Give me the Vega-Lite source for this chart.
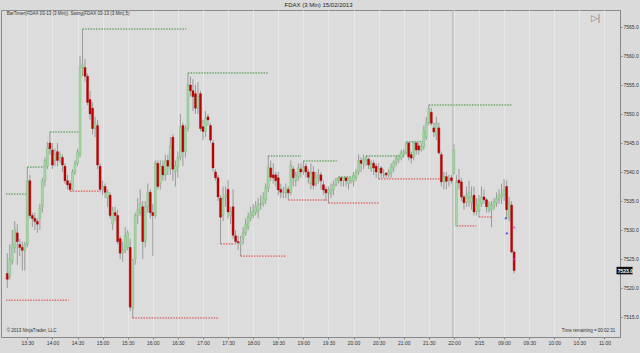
{
  "$schema": "https://vega.github.io/schema/vega-lite/v6.json",
  "width": 619,
  "height": 327,
  "autosize": {"type": "none"},
  "padding": {"left": 1, "top": 10, "right": 20, "bottom": 16},
  "background": "#dadada",
  "view": {"fill": "#dcdcdc", "stroke": "#8c8c8c", "strokeWidth": 1},
  "title": {"text": "FDAX  (3 Min)  15/02/2013", "fontSize": 6, "font": "Liberation Sans", "fontWeight": "normal", "color": "#222222", "anchor": "middle", "offset": 2, "dx": 8, "frame": "group"},
  "config": {"font": "Liberation Sans", "axis": {"labelOverlap": false, "labelFontSize": 5, "labelColor": "#333333", "labelPadding": 1, "tickSize": 2, "tickColor": "#888888", "domainColor": "#888888", "title": null}},
  "datasets": {
    "bars": [
      {"i":-8,"o":7522.5,"h":7526,"l":7520,"c":7521.5},
      {"i":-7,"o":7522,"h":7527.5,"l":7521.5,"c":7525},
      {"i":-6,"o":7524.5,"h":7530,"l":7524,"c":7527.5},
      {"i":-5,"o":7527,"h":7531.5,"l":7526,"c":7530},
      {"i":-4,"o":7529.5,"h":7531,"l":7524,"c":7528},
      {"i":-3,"o":7527.5,"h":7528.5,"l":7525.5,"c":7527},
      {"i":-2,"o":7527,"h":7528,"l":7523,"c":7526.5},
      {"i":-1,"o":7526.5,"h":7528,"l":7523,"c":7527.5},
      {"i":0,"o":7527.5,"h":7540.9,"l":7527,"c":7538.5},
      {"i":1,"o":7538.5,"h":7539.5,"l":7532,"c":7532.5},
      {"i":2,"o":7532.5,"h":7533,"l":7530.5,"c":7532},
      {"i":3,"o":7532,"h":7533,"l":7530,"c":7531.5},
      {"i":4,"o":7531.5,"h":7532,"l":7529.5,"c":7531},
      {"i":5,"o":7532,"h":7534.5,"l":7530,"c":7533.8},
      {"i":6,"o":7534,"h":7539,"l":7533,"c":7538.5},
      {"i":7,"o":7538.5,"h":7542.5,"l":7537.5,"c":7542},
      {"i":8,"o":7541,"h":7545.2,"l":7540.5,"c":7544.3},
      {"i":9,"o":7545,"h":7546.9,"l":7543,"c":7544},
      {"i":10,"o":7543.8,"h":7545,"l":7540.5,"c":7541.2},
      {"i":11,"o":7542,"h":7544,"l":7541,"c":7543},
      {"i":12,"o":7543.5,"h":7545,"l":7541,"c":7542},
      {"i":13,"o":7542.5,"h":7543.5,"l":7541.5,"c":7543},
      {"i":14,"o":7542.5,"h":7543,"l":7540,"c":7541.2},
      {"i":15,"o":7541,"h":7541.5,"l":7538,"c":7538.5},
      {"i":16,"o":7538.5,"h":7539.5,"l":7537,"c":7537.8},
      {"i":17,"o":7538,"h":7538.5,"l":7536.7,"c":7537},
      {"i":18,"o":7537,"h":7540.5,"l":7536.8,"c":7540},
      {"i":19,"o":7540,"h":7542,"l":7539.5,"c":7541.5},
      {"i":20,"o":7541.5,"h":7544,"l":7541,"c":7543.5},
      {"i":21,"o":7543,"h":7560,"l":7542.5,"c":7558.1},
      {"i":22,"o":7558,"h":7564.65,"l":7556.5,"c":7558.5},
      {"i":23,"o":7558,"h":7559.5,"l":7555.5,"c":7556.5},
      {"i":24,"o":7556.5,"h":7557,"l":7551.5,"c":7552},
      {"i":25,"o":7552.5,"h":7554,"l":7549,"c":7550},
      {"i":26,"o":7551,"h":7552,"l":7546.5,"c":7547.5},
      {"i":27,"o":7547.5,"h":7549.5,"l":7546,"c":7548.5},
      {"i":28,"o":7548,"h":7549,"l":7540.5,"c":7541.2},
      {"i":29,"o":7541,"h":7541.5,"l":7536.5,"c":7537},
      {"i":30,"o":7537,"h":7538.5,"l":7536,"c":7537.5},
      {"i":31,"o":7537.5,"h":7538,"l":7535.5,"c":7536.5},
      {"i":32,"o":7535.5,"h":7537,"l":7534,"c":7536.5},
      {"i":33,"o":7536,"h":7536.5,"l":7532,"c":7532.5},
      {"i":34,"o":7531,"h":7534,"l":7530,"c":7533.5},
      {"i":35,"o":7533,"h":7534,"l":7531.5,"c":7532.5},
      {"i":36,"o":7532.5,"h":7533.5,"l":7527.5,"c":7528},
      {"i":37,"o":7528.5,"h":7529,"l":7525,"c":7526},
      {"i":38,"o":7526,"h":7528,"l":7524.5,"c":7526.5},
      {"i":39,"o":7526.5,"h":7530.5,"l":7526,"c":7529},
      {"i":40,"o":7527,"h":7530,"l":7526.5,"c":7529.5},
      {"i":41,"o":7527,"h":7528.5,"l":7516,"c":7516.7},
      {"i":42,"o":7516.5,"h":7525,"l":7514.8,"c":7524.8},
      {"i":43,"o":7525,"h":7533,"l":7524,"c":7532.5},
      {"i":44,"o":7532.5,"h":7535.5,"l":7531,"c":7533.5},
      {"i":45,"o":7533,"h":7537,"l":7532.5,"c":7534.5},
      {"i":46,"o":7534,"h":7535,"l":7525,"c":7528},
      {"i":47,"o":7528,"h":7535,"l":7527,"c":7534},
      {"i":48,"o":7534,"h":7538,"l":7533,"c":7536.5},
      {"i":49,"o":7536.5,"h":7537,"l":7532,"c":7533},
      {"i":50,"o":7533,"h":7534.5,"l":7525.5,"c":7532.5},
      {"i":51,"o":7532.5,"h":7542,"l":7532,"c":7541.5},
      {"i":52,"o":7541.5,"h":7542,"l":7537,"c":7537.5},
      {"i":53,"o":7538,"h":7542,"l":7537,"c":7541},
      {"i":54,"o":7541,"h":7542,"l":7538.5,"c":7539.5},
      {"i":55,"o":7539.5,"h":7543,"l":7538.5,"c":7542},
      {"i":56,"o":7542,"h":7543,"l":7539.5,"c":7541},
      {"i":57,"o":7540.5,"h":7546,"l":7539.5,"c":7544.5},
      {"i":58,"o":7546,"h":7546.5,"l":7538.5,"c":7540.5},
      {"i":59,"o":7540,"h":7542,"l":7537.5,"c":7541},
      {"i":60,"o":7541,"h":7543.5,"l":7539,"c":7542.5},
      {"i":61,"o":7542.5,"h":7550,"l":7542,"c":7547.8},
      {"i":62,"o":7548,"h":7548.5,"l":7541,"c":7543.5},
      {"i":63,"o":7543.5,"h":7548,"l":7542.5,"c":7547.5},
      {"i":64,"o":7547.5,"h":7557.05,"l":7547,"c":7555},
      {"i":65,"o":7555,"h":7556.5,"l":7553,"c":7554},
      {"i":66,"o":7554,"h":7556,"l":7550.5,"c":7553},
      {"i":67,"o":7553.5,"h":7555,"l":7550,"c":7551},
      {"i":68,"o":7551,"h":7555.5,"l":7550,"c":7553},
      {"i":69,"o":7553.5,"h":7554,"l":7547,"c":7547.5},
      {"i":70,"o":7547.8,"h":7549,"l":7545.5,"c":7547},
      {"i":71,"o":7547,"h":7550.5,"l":7546,"c":7549.3},
      {"i":72,"o":7549.5,"h":7550,"l":7548,"c":7549},
      {"i":73,"o":7548,"h":7548.5,"l":7545,"c":7545.5},
      {"i":74,"o":7545,"h":7545.5,"l":7540,"c":7540.7},
      {"i":75,"o":7540,"h":7540.5,"l":7538.5,"c":7539},
      {"i":76,"o":7539,"h":7539.5,"l":7535,"c":7535.7},
      {"i":77,"o":7535.5,"h":7536,"l":7527.6,"c":7532.2},
      {"i":78,"o":7532.5,"h":7537.5,"l":7531.5,"c":7535.5},
      {"i":79,"o":7535.5,"h":7537.5,"l":7534,"c":7536},
      {"i":80,"o":7537,"h":7538.6,"l":7532,"c":7533.1},
      {"i":81,"o":7532.5,"h":7534,"l":7531,"c":7533.2},
      {"i":82,"o":7534,"h":7537,"l":7528.5,"c":7529.1},
      {"i":83,"o":7529,"h":7530,"l":7527.5,"c":7528},
      {"i":84,"o":7528,"h":7529,"l":7526.5,"c":7527.8},
      {"i":85,"o":7527.5,"h":7529,"l":7525.5,"c":7528},
      {"i":86,"o":7528.5,"h":7530.5,"l":7527.5,"c":7529.5},
      {"i":87,"o":7529.5,"h":7532,"l":7529,"c":7531},
      {"i":88,"o":7530.5,"h":7533,"l":7530,"c":7532.3},
      {"i":89,"o":7532,"h":7534,"l":7531.5,"c":7533},
      {"i":90,"o":7532.5,"h":7534.5,"l":7532,"c":7533.3},
      {"i":91,"o":7533,"h":7535,"l":7532.5,"c":7534},
      {"i":92,"o":7533.3,"h":7535.5,"l":7532,"c":7534.5},
      {"i":93,"o":7534.5,"h":7536,"l":7533.5,"c":7534.5},
      {"i":94,"o":7534.5,"h":7536.5,"l":7534,"c":7535.5},
      {"i":95,"o":7535.2,"h":7538,"l":7534.5,"c":7537.4},
      {"i":96,"o":7537.2,"h":7542.76,"l":7536.5,"c":7540.9},
      {"i":97,"o":7540.7,"h":7542,"l":7538.5,"c":7539.1},
      {"i":98,"o":7539.5,"h":7541.5,"l":7538,"c":7539},
      {"i":99,"o":7539.5,"h":7540,"l":7537.5,"c":7538.5},
      {"i":100,"o":7539,"h":7540,"l":7536,"c":7536.9},
      {"i":101,"o":7537,"h":7538,"l":7535.5,"c":7536.5},
      {"i":102,"o":7536.5,"h":7537.5,"l":7535.5,"c":7536.5},
      {"i":103,"o":7536.4,"h":7538,"l":7535.5,"c":7537.2},
      {"i":104,"o":7537,"h":7537.5,"l":7535.2,"c":7536.4},
      {"i":105,"o":7536.5,"h":7542,"l":7536,"c":7541.2},
      {"i":106,"o":7540.5,"h":7541,"l":7537.5,"c":7539},
      {"i":107,"o":7538.5,"h":7540,"l":7537.5,"c":7539.5},
      {"i":108,"o":7539.2,"h":7541.5,"l":7538.5,"c":7540.7},
      {"i":109,"o":7540.5,"h":7541.5,"l":7539,"c":7540},
      {"i":110,"o":7540.2,"h":7541.9,"l":7539.5,"c":7540.8},
      {"i":111,"o":7541,"h":7541.5,"l":7539,"c":7540},
      {"i":112,"o":7540,"h":7540.5,"l":7538,"c":7539.1},
      {"i":113,"o":7538,"h":7541.5,"l":7537,"c":7540},
      {"i":114,"o":7540,"h":7541,"l":7537,"c":7537.7},
      {"i":115,"o":7538,"h":7540,"l":7537.5,"c":7539},
      {"i":116,"o":7539,"h":7540.5,"l":7538,"c":7539.5},
      {"i":117,"o":7539.5,"h":7540,"l":7537,"c":7538.5},
      {"i":118,"o":7537.8,"h":7538.5,"l":7536,"c":7536.9},
      {"i":119,"o":7537,"h":7537.5,"l":7535,"c":7536.4},
      {"i":120,"o":7536.4,"h":7537.5,"l":7534.65,"c":7537},
      {"i":121,"o":7536.2,"h":7538,"l":7535.5,"c":7537},
      {"i":122,"o":7536.9,"h":7538.5,"l":7536,"c":7537.8},
      {"i":123,"o":7537.8,"h":7539,"l":7537.5,"c":7538.8},
      {"i":124,"o":7538.5,"h":7539.14,"l":7538,"c":7539},
      {"i":125,"o":7539,"h":7539,"l":7537.5,"c":7538.5},
      {"i":126,"o":7538.5,"h":7539,"l":7537.5,"c":7539},
      {"i":127,"o":7539,"h":7539,"l":7537.5,"c":7538.5},
      {"i":128,"o":7538,"h":7539,"l":7537,"c":7538.8},
      {"i":129,"o":7538.5,"h":7539,"l":7538,"c":7539},
      {"i":130,"o":7538.3,"h":7540,"l":7537.5,"c":7539.5},
      {"i":131,"o":7539,"h":7540.5,"l":7538.5,"c":7540},
      {"i":132,"o":7540,"h":7543,"l":7539.5,"c":7542},
      {"i":133,"o":7542,"h":7542.5,"l":7540,"c":7541.5},
      {"i":134,"o":7541.3,"h":7543,"l":7540.5,"c":7542.2},
      {"i":135,"o":7542,"h":7542.76,"l":7541,"c":7542.5},
      {"i":136,"o":7542.2,"h":7542.5,"l":7540.5,"c":7541.2},
      {"i":137,"o":7540.5,"h":7542,"l":7540,"c":7541.5},
      {"i":138,"o":7541.5,"h":7542,"l":7539.5,"c":7540.7},
      {"i":139,"o":7541,"h":7541.5,"l":7539,"c":7540},
      {"i":140,"o":7540,"h":7541.5,"l":7538.8,"c":7540.5},
      {"i":141,"o":7540.7,"h":7541,"l":7539,"c":7539.8},
      {"i":142,"o":7539.5,"h":7540.5,"l":7539,"c":7539.5},
      {"i":143,"o":7539.8,"h":7540,"l":7539,"c":7539.5},
      {"i":144,"o":7539.5,"h":7540.5,"l":7539,"c":7540},
      {"i":145,"o":7539.8,"h":7541.5,"l":7539,"c":7540.9},
      {"i":146,"o":7540.7,"h":7542,"l":7540,"c":7541.7},
      {"i":147,"o":7541.6,"h":7542.8,"l":7541,"c":7542.4},
      {"i":148,"o":7542.2,"h":7543,"l":7541.5,"c":7542.8},
      {"i":149,"o":7542.4,"h":7543.8,"l":7542,"c":7543.3},
      {"i":150,"o":7543,"h":7544,"l":7542.5,"c":7543.5},
      {"i":151,"o":7543.3,"h":7545.2,"l":7543,"c":7545},
      {"i":152,"o":7545,"h":7545.2,"l":7542,"c":7542.6},
      {"i":153,"o":7543,"h":7543.5,"l":7541.5,"c":7542.4},
      {"i":154,"o":7542.6,"h":7545.2,"l":7542,"c":7545},
      {"i":155,"o":7545,"h":7545.2,"l":7543,"c":7543.8},
      {"i":156,"o":7544.5,"h":7545,"l":7543,"c":7543.8},
      {"i":157,"o":7543.8,"h":7545,"l":7543.5,"c":7544.3},
      {"i":158,"o":7544.3,"h":7548,"l":7543.8,"c":7547.2},
      {"i":159,"o":7546,"h":7549.5,"l":7545.5,"c":7548.5},
      {"i":160,"o":7548.5,"h":7551.55,"l":7548,"c":7551},
      {"i":161,"o":7550.3,"h":7551,"l":7548,"c":7548.4},
      {"i":162,"o":7547.6,"h":7548.5,"l":7546,"c":7546.9},
      {"i":163,"o":7546.4,"h":7549.5,"l":7545.5,"c":7548.4},
      {"i":164,"o":7547.6,"h":7548.5,"l":7543,"c":7543.3},
      {"i":165,"o":7543,"h":7543.5,"l":7537.5,"c":7538.3},
      {"i":166,"o":7538.3,"h":7540,"l":7537,"c":7539.2},
      {"i":167,"o":7539.2,"h":7540,"l":7537,"c":7538.4},
      {"i":168,"o":7538.5,"h":7539.5,"l":7537.5,"c":7538.8},
      {"i":169,"o":7539,"h":7539.5,"l":7538,"c":7538.5},
      {"i":170,"o":7539.8,"h":7544.8,"l":7539.5,"c":7543.8},
      {"i":171,"o":7530.7,"h":7539.5,"l":7530.7,"c":7538.3},
      {"i":172,"o":7538.6,"h":7540.5,"l":7537,"c":7538.1},
      {"i":173,"o":7538.3,"h":7539,"l":7535,"c":7535.7},
      {"i":174,"o":7535.7,"h":7536,"l":7533.5,"c":7534.7},
      {"i":175,"o":7534.7,"h":7537.5,"l":7534,"c":7536},
      {"i":176,"o":7535.5,"h":7538.5,"l":7534,"c":7536.5},
      {"i":177,"o":7534.7,"h":7537.5,"l":7533.5,"c":7535.7},
      {"i":178,"o":7536,"h":7537.5,"l":7532.5,"c":7533.1},
      {"i":179,"o":7533.2,"h":7535.5,"l":7532.5,"c":7534.3},
      {"i":180,"o":7533.2,"h":7536,"l":7532.24,"c":7535.2},
      {"i":181,"o":7534.5,"h":7537.5,"l":7534,"c":7535.7},
      {"i":182,"o":7535.7,"h":7537,"l":7534.5,"c":7535.2},
      {"i":183,"o":7535.2,"h":7535.5,"l":7533,"c":7534},
      {"i":184,"o":7533.4,"h":7535,"l":7533,"c":7534.6},
      {"i":185,"o":7533.5,"h":7535,"l":7530.5,"c":7534.3},
      {"i":186,"o":7534,"h":7535.5,"l":7533.5,"c":7534.9},
      {"i":187,"o":7534.7,"h":7536.5,"l":7534,"c":7535.5},
      {"i":188,"o":7535.2,"h":7537,"l":7534.5,"c":7536},
      {"i":189,"o":7535.7,"h":7538,"l":7534.5,"c":7536.2},
      {"i":190,"o":7536,"h":7538.8,"l":7535,"c":7537},
      {"i":191,"o":7537.5,"h":7538.5,"l":7532,"c":7533.5},
      {"i":192,"o":7532.1,"h":7535.7,"l":7531.5,"c":7534.7},
      {"i":193,"o":7534.3,"h":7535,"l":7526,"c":7526.2},
      {"i":194,"o":7526.2,"h":7526.5,"l":7522.5,"c":7523}
    ],
    "swings": [
      {"x1":-8.5,"x2":0,"p":7536.2,"k":"high"},
      {"x1":-8.5,"x2":16.5,"p":7517.9,"k":"low"},
      {"x1":0,"x2":7.6,"p":7540.85,"k":"high"},
      {"x1":9,"x2":20.5,"p":7546.9,"k":"high"},
      {"x1":22,"x2":63.3,"p":7564.65,"k":"high"},
      {"x1":17,"x2":28.7,"p":7536.7,"k":"low"},
      {"x1":42,"x2":76.2,"p":7514.83,"k":"low"},
      {"x1":64,"x2":96.2,"p":7557.07,"k":"high"},
      {"x1":77,"x2":82.5,"p":7527.6,"k":"low"},
      {"x1":85,"x2":103.3,"p":7525.5,"k":"low"},
      {"x1":96,"x2":109.1,"p":7542.76,"k":"high"},
      {"x1":104,"x2":119.3,"p":7535.17,"k":"low"},
      {"x1":110,"x2":123.3,"p":7541.9,"k":"high"},
      {"x1":120,"x2":140.1,"p":7534.65,"k":"low"},
      {"x1":124,"x2":131.1,"p":7539.14,"k":"high"},
      {"x1":135,"x2":149.9,"p":7542.76,"k":"high"},
      {"x1":140,"x2":165.6,"p":7538.8,"k":"low"},
      {"x1":151,"x2":158.5,"p":7545.2,"k":"high"},
      {"x1":160,"x2":193.1,"p":7551.55,"k":"high"},
      {"x1":171,"x2":178.9,"p":7530.7,"k":"low"},
      {"x1":180,"x2":185.2,"p":7532.24,"k":"low"}
    ],
    "signals": [
      {"i":190.7,"p":7532.1,"k":"blue"},
      {"i":191.1,"p":7529.5,"k":"blue"},
      {"i":194,"p":7530.5,"k":"mag"},
      {"i":194,"p":7525,"k":"mag"}
    ],
    "notes": [
      {"t": "BarTimer(FDAX 03-13 (3 Min)), Swing(FDAX 03-13 (3 Min),5)", "x": -8.2, "y": 7567.2},
      {"t": "© 2013 NinjaTrader, LLC", "x": -8.2, "y": 7512.6},
      {"t": "Time remaining = 00:02:31", "x": 213.0, "y": 7512.6}
    ]
  },
  "layer": [
    {
      "data": {"name": "bars"},
      "mark": {"type": "rule", "color": "#9a9a9a", "strokeWidth": 1},
      "encoding": {
        "x": {"field": "i", "type": "quantitative", "title": null,
          "scale": {"domain": [-8.5, 234.2], "nice": false, "zero": false},
          "axis": {"orient": "bottom", "values": [0,10,20,30,40,50,60,70,80,90,100,110,120,130,140,150,160,170,180,190,200,210,220,230], "labelExpr": "['13:30','14:00','14:30','15:00','15:30','16:00','16:30','17:00','17:30','18:00','18:30','19:00','19:30','20:00','20:30','21:00','21:30','22:00','2/15','09:00','09:30','10:00','10:30','11:00'][round(datum.value/10)]", "grid": true, "gridColor": "#e7e7e7", "labelFlush": false}},
        "y": {"field": "l", "type": "quantitative", "title": null,
          "scale": {"domain": [7511.55, 7567.93], "nice": false, "zero": false},
          "axis": {"orient": "right", "values": [7515,7520,7525,7530,7535,7540,7545,7550,7555,7560,7565], "format": ".1f", "grid": false}},
        "y2": {"field": "h"}
      }
    },
    {
      "data": {"name": "swings"},
      "mark": {"type": "rule", "strokeWidth": 1, "strokeDash": [1.5, 1.2]},
      "encoding": {
        "x": {"field": "x1", "type": "quantitative", "title": null,
          "axis": {"orient": "bottom", "values": [0,10,20,30,40,50,60,70,80,90,100,110,120,130,140,150,160,170,180,190,200,210,220,230], "labelExpr": "['13:30','14:00','14:30','15:00','15:30','16:00','16:30','17:00','17:30','18:00','18:30','19:00','19:30','20:00','20:30','21:00','21:30','22:00','2/15','09:00','09:30','10:00','10:30','11:00'][round(datum.value/10)]", "grid": true, "gridColor": "#e7e7e7", "labelFlush": false}},
        "x2": {"field": "x2"},
        "y": {"field": "p", "type": "quantitative", "title": null,
          "axis": {"orient": "right", "values": [7515,7520,7525,7530,7535,7540,7545,7550,7555,7560,7565], "format": ".1f", "grid": false}},
        "color": {"condition": {"test": "datum.k == 'high'", "value": "#3a8c3a"}, "value": "#e03a3a"}
      }
    },
    {
      "data": {"values": [{"b": 169.6}]},
      "mark": {"type": "rule", "color": "#b4b4b4", "strokeWidth": 1},
      "encoding": {"x": {"field": "b", "type": "quantitative", "title": null,
          "axis": {"orient": "bottom", "values": [0,10,20,30,40,50,60,70,80,90,100,110,120,130,140,150,160,170,180,190,200,210,220,230], "labelExpr": "['13:30','14:00','14:30','15:00','15:30','16:00','16:30','17:00','17:30','18:00','18:30','19:00','19:30','20:00','20:30','21:00','21:30','22:00','2/15','09:00','09:30','10:00','10:30','11:00'][round(datum.value/10)]", "grid": true, "gridColor": "#e7e7e7", "labelFlush": false}}}
    },
    {
      "data": {"name": "bars"},
      "mark": {"type": "bar", "size": 2, "strokeWidth": 0.4},
      "encoding": {
        "x": {"field": "i", "type": "quantitative", "title": null,
          "axis": {"orient": "bottom", "values": [0,10,20,30,40,50,60,70,80,90,100,110,120,130,140,150,160,170,180,190,200,210,220,230], "labelExpr": "['13:30','14:00','14:30','15:00','15:30','16:00','16:30','17:00','17:30','18:00','18:30','19:00','19:30','20:00','20:30','21:00','21:30','22:00','2/15','09:00','09:30','10:00','10:30','11:00'][round(datum.value/10)]", "grid": true, "gridColor": "#e7e7e7", "labelFlush": false}},
        "y": {"field": "o", "type": "quantitative", "title": null,
          "axis": {"orient": "right", "values": [7515,7520,7525,7530,7535,7540,7545,7550,7555,7560,7565], "format": ".1f", "grid": false}},
        "y2": {"field": "c"},
        "fill": {"condition": {"test": "datum.c >= datum.o", "value": "#a5d8a5"}, "value": "#c00000"},
        "stroke": {"condition": {"test": "datum.c >= datum.o", "value": "#6fb06f"}, "value": "#a00000"}
      }
    },
    {
      "data": {"name": "signals"},
      "mark": {"type": "point", "shape": "triangle-up", "filled": true, "size": 10},
      "encoding": {
        "x": {"field": "i", "type": "quantitative", "title": null,
          "axis": {"orient": "bottom", "values": [0,10,20,30,40,50,60,70,80,90,100,110,120,130,140,150,160,170,180,190,200,210,220,230], "labelExpr": "['13:30','14:00','14:30','15:00','15:30','16:00','16:30','17:00','17:30','18:00','18:30','19:00','19:30','20:00','20:30','21:00','21:30','22:00','2/15','09:00','09:30','10:00','10:30','11:00'][round(datum.value/10)]", "grid": true, "gridColor": "#e7e7e7", "labelFlush": false}},
        "y": {"field": "p", "type": "quantitative", "title": null,
          "axis": {"orient": "right", "values": [7515,7520,7525,7530,7535,7540,7545,7550,7555,7560,7565], "format": ".1f", "grid": false}},
        "color": {"condition": {"test": "datum.k == 'blue'", "value": "#2a2ad8"}, "value": "#ff20d0"}
      }
    },
    {
      "data": {"name": "notes"},
      "mark": {"type": "text", "fontSize": 4.5, "align": "left", "baseline": "middle", "color": "#333333"},
      "encoding": {
        "x": {"field": "x", "type": "quantitative", "title": null,
          "axis": {"orient": "bottom", "values": [0,10,20,30,40,50,60,70,80,90,100,110,120,130,140,150,160,170,180,190,200,210,220,230], "labelExpr": "['13:30','14:00','14:30','15:00','15:30','16:00','16:30','17:00','17:30','18:00','18:30','19:00','19:30','20:00','20:30','21:00','21:30','22:00','2/15','09:00','09:30','10:00','10:30','11:00'][round(datum.value/10)]", "grid": true, "gridColor": "#e7e7e7", "labelFlush": false}},
        "y": {"field": "y", "type": "quantitative", "title": null,
          "axis": {"orient": "right", "values": [7515,7520,7525,7530,7535,7540,7545,7550,7555,7560,7565], "format": ".1f", "grid": false}},
        "text": {"field": "t"}
      }
    },
    {
      "data": {"values": [{"t": "▷|", "x": 226.4, "y": 7566.6}]},
      "mark": {"type": "text", "fontSize": 9, "align": "center", "baseline": "middle", "color": "#7a7a7a"},
      "encoding": {
        "x": {"field": "x", "type": "quantitative", "title": null,
          "axis": {"orient": "bottom", "values": [0,10,20,30,40,50,60,70,80,90,100,110,120,130,140,150,160,170,180,190,200,210,220,230], "labelExpr": "['13:30','14:00','14:30','15:00','15:30','16:00','16:30','17:00','17:30','18:00','18:30','19:00','19:30','20:00','20:30','21:00','21:30','22:00','2/15','09:00','09:30','10:00','10:30','11:00'][round(datum.value/10)]", "grid": true, "gridColor": "#e7e7e7", "labelFlush": false}},
        "y": {"field": "y", "type": "quantitative", "title": null,
          "axis": {"orient": "right", "values": [7515,7520,7525,7530,7535,7540,7545,7550,7555,7560,7565], "format": ".1f", "grid": false}},
        "text": {"field": "t"}
      }
    },
    {
      "data": {"values": [{"x": 234.8, "x2": 241.2, "y": 7523.65, "y2": 7522.35}]},
      "mark": {"type": "rect", "color": "#111111"},
      "encoding": {
        "x": {"field": "x", "type": "quantitative", "title": null,
          "axis": {"orient": "bottom", "values": [0,10,20,30,40,50,60,70,80,90,100,110,120,130,140,150,160,170,180,190,200,210,220,230], "labelExpr": "['13:30','14:00','14:30','15:00','15:30','16:00','16:30','17:00','17:30','18:00','18:30','19:00','19:30','20:00','20:30','21:00','21:30','22:00','2/15','09:00','09:30','10:00','10:30','11:00'][round(datum.value/10)]", "grid": true, "gridColor": "#e7e7e7", "labelFlush": false}},
        "x2": {"field": "x2"},
        "y": {"field": "y", "type": "quantitative", "title": null,
          "axis": {"orient": "right", "values": [7515,7520,7525,7530,7535,7540,7545,7550,7555,7560,7565], "format": ".1f", "grid": false}},
        "y2": {"field": "y2"}
      }
    },
    {
      "data": {"values": [{"t": "7523.0", "x": 235.3, "y": 7523}]},
      "mark": {"type": "text", "fontSize": 5, "align": "left", "baseline": "middle", "color": "#ffffff", "fontWeight": "bold"},
      "encoding": {
        "x": {"field": "x", "type": "quantitative", "title": null,
          "axis": {"orient": "bottom", "values": [0,10,20,30,40,50,60,70,80,90,100,110,120,130,140,150,160,170,180,190,200,210,220,230], "labelExpr": "['13:30','14:00','14:30','15:00','15:30','16:00','16:30','17:00','17:30','18:00','18:30','19:00','19:30','20:00','20:30','21:00','21:30','22:00','2/15','09:00','09:30','10:00','10:30','11:00'][round(datum.value/10)]", "grid": true, "gridColor": "#e7e7e7", "labelFlush": false}},
        "y": {"field": "y", "type": "quantitative", "title": null,
          "axis": {"orient": "right", "values": [7515,7520,7525,7530,7535,7540,7545,7550,7555,7560,7565], "format": ".1f", "grid": false}},
        "text": {"field": "t"}
      }
    }
  ]
}
